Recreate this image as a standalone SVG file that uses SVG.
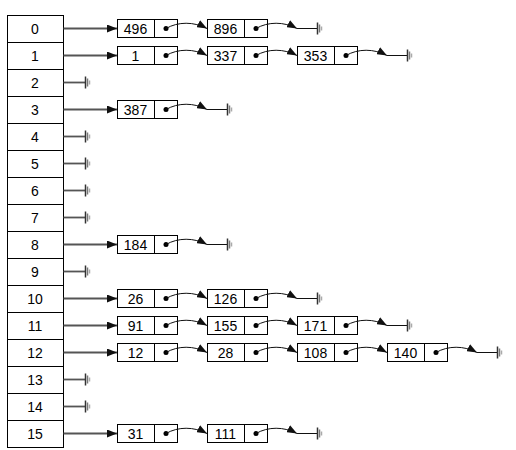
<svg xmlns="http://www.w3.org/2000/svg" width="516" height="450" viewBox="0 0 516 450">
<defs>
<marker id="ah" markerUnits="userSpaceOnUse" viewBox="0 0 10 8" refX="10" refY="4" markerWidth="10" markerHeight="8" orient="auto"><path d="M0,0 L10,4 L0,8 z" fill="#111"/></marker>
<style>
.tb rect{fill:#fff;stroke:#000;stroke-width:1}
.nd rect{fill:#fff;stroke:#000;stroke-width:1}
.nd line{stroke:#000;stroke-width:1}
text{font-family:"Liberation Sans",Arial,sans-serif;font-size:14px;fill:#000;text-anchor:middle}
.dot{fill:#000}
.ar{fill:none;stroke:#555;stroke-width:1.8;marker-end:url(#ah)}
.cv{fill:none;stroke:#111;stroke-width:1;marker-end:url(#ah)}
.nl{fill:none;stroke:#555;stroke-width:1.8}
.tl{fill:none;stroke:#111;stroke-width:1}
.g1{stroke:#333;stroke-width:1.5}
.g2{stroke:#777;stroke-width:1.5}
.g3{stroke:#aaa;stroke-width:1.5}
</style>
</defs>
<rect width="516" height="450" fill="#fff"/>
<g id="table">
<g id="row0" class="tb"><rect x="7.5" y="15.5" width="56" height="27"/><text x="35" y="33.5">0</text></g>
<g id="row1" class="tb"><rect x="7.5" y="42.5" width="56" height="27"/><text x="35" y="60.5">1</text></g>
<g id="row2" class="tb"><rect x="7.5" y="69.5" width="56" height="27"/><text x="35" y="87.5">2</text></g>
<g id="row3" class="tb"><rect x="7.5" y="96.5" width="56" height="27"/><text x="35" y="114.5">3</text></g>
<g id="row4" class="tb"><rect x="7.5" y="123.5" width="56" height="27"/><text x="35" y="141.5">4</text></g>
<g id="row5" class="tb"><rect x="7.5" y="150.5" width="56" height="27"/><text x="35" y="168.5">5</text></g>
<g id="row6" class="tb"><rect x="7.5" y="177.5" width="56" height="27"/><text x="35" y="195.5">6</text></g>
<g id="row7" class="tb"><rect x="7.5" y="204.5" width="56" height="27"/><text x="35" y="222.5">7</text></g>
<g id="row8" class="tb"><rect x="7.5" y="231.5" width="56" height="27"/><text x="35" y="249.5">8</text></g>
<g id="row9" class="tb"><rect x="7.5" y="258.5" width="56" height="27"/><text x="35" y="276.5">9</text></g>
<g id="row10" class="tb"><rect x="7.5" y="285.5" width="56" height="27"/><text x="35" y="303.5">10</text></g>
<g id="row11" class="tb"><rect x="7.5" y="312.5" width="56" height="27"/><text x="35" y="330.5">11</text></g>
<g id="row12" class="tb"><rect x="7.5" y="339.5" width="56" height="27"/><text x="35" y="357.5">12</text></g>
<g id="row13" class="tb"><rect x="7.5" y="366.5" width="56" height="27"/><text x="35" y="384.5">13</text></g>
<g id="row14" class="tb"><rect x="7.5" y="393.5" width="56" height="27"/><text x="35" y="411.5">14</text></g>
<g id="row15" class="tb"><rect x="7.5" y="420.5" width="56" height="27"/><text x="35" y="438.5">15</text></g>
</g>
<g id="nodes">
<g id="n0a" class="nd"><rect x="117.5" y="19.5" width="60" height="18"/><line x1="154.5" y1="19.5" x2="154.5" y2="37.5"/><text x="135.5" y="33.5">496</text><circle class="dot" cx="166" cy="28.5" r="2.5"/></g>
<g id="n0b" class="nd"><rect x="207.5" y="19.5" width="60" height="18"/><line x1="244.5" y1="19.5" x2="244.5" y2="37.5"/><text x="225.5" y="33.5">896</text><circle class="dot" cx="256" cy="28.5" r="2.5"/></g>
<g id="n1a" class="nd"><rect x="117.5" y="46.5" width="60" height="18"/><line x1="154.5" y1="46.5" x2="154.5" y2="64.5"/><text x="135.5" y="60.5">1</text><circle class="dot" cx="166" cy="55.5" r="2.5"/></g>
<g id="n1b" class="nd"><rect x="207.5" y="46.5" width="60" height="18"/><line x1="244.5" y1="46.5" x2="244.5" y2="64.5"/><text x="225.5" y="60.5">337</text><circle class="dot" cx="256" cy="55.5" r="2.5"/></g>
<g id="n1c" class="nd"><rect x="297.5" y="46.5" width="60" height="18"/><line x1="334.5" y1="46.5" x2="334.5" y2="64.5"/><text x="315.5" y="60.5">353</text><circle class="dot" cx="346" cy="55.5" r="2.5"/></g>
<g id="n3a" class="nd"><rect x="117.5" y="100.5" width="60" height="18"/><line x1="154.5" y1="100.5" x2="154.5" y2="118.5"/><text x="135.5" y="114.5">387</text><circle class="dot" cx="166" cy="109.5" r="2.5"/></g>
<g id="n8a" class="nd"><rect x="117.5" y="235.5" width="60" height="18"/><line x1="154.5" y1="235.5" x2="154.5" y2="253.5"/><text x="135.5" y="249.5">184</text><circle class="dot" cx="166" cy="244.5" r="2.5"/></g>
<g id="n10a" class="nd"><rect x="117.5" y="289.5" width="60" height="18"/><line x1="154.5" y1="289.5" x2="154.5" y2="307.5"/><text x="135.5" y="303.5">26</text><circle class="dot" cx="166" cy="298.5" r="2.5"/></g>
<g id="n10b" class="nd"><rect x="207.5" y="289.5" width="60" height="18"/><line x1="244.5" y1="289.5" x2="244.5" y2="307.5"/><text x="225.5" y="303.5">126</text><circle class="dot" cx="256" cy="298.5" r="2.5"/></g>
<g id="n11a" class="nd"><rect x="117.5" y="316.5" width="60" height="18"/><line x1="154.5" y1="316.5" x2="154.5" y2="334.5"/><text x="135.5" y="330.5">91</text><circle class="dot" cx="166" cy="325.5" r="2.5"/></g>
<g id="n11b" class="nd"><rect x="207.5" y="316.5" width="60" height="18"/><line x1="244.5" y1="316.5" x2="244.5" y2="334.5"/><text x="225.5" y="330.5">155</text><circle class="dot" cx="256" cy="325.5" r="2.5"/></g>
<g id="n11c" class="nd"><rect x="297.5" y="316.5" width="60" height="18"/><line x1="334.5" y1="316.5" x2="334.5" y2="334.5"/><text x="315.5" y="330.5">171</text><circle class="dot" cx="346" cy="325.5" r="2.5"/></g>
<g id="n12a" class="nd"><rect x="117.5" y="343.5" width="60" height="18"/><line x1="154.5" y1="343.5" x2="154.5" y2="361.5"/><text x="135.5" y="357.5">12</text><circle class="dot" cx="166" cy="352.5" r="2.5"/></g>
<g id="n12b" class="nd"><rect x="207.5" y="343.5" width="60" height="18"/><line x1="244.5" y1="343.5" x2="244.5" y2="361.5"/><text x="225.5" y="357.5">28</text><circle class="dot" cx="256" cy="352.5" r="2.5"/></g>
<g id="n12c" class="nd"><rect x="297.5" y="343.5" width="60" height="18"/><line x1="334.5" y1="343.5" x2="334.5" y2="361.5"/><text x="315.5" y="357.5">108</text><circle class="dot" cx="346" cy="352.5" r="2.5"/></g>
<g id="n12d" class="nd"><rect x="387.5" y="343.5" width="60" height="18"/><line x1="424.5" y1="343.5" x2="424.5" y2="361.5"/><text x="405.5" y="357.5">140</text><circle class="dot" cx="436" cy="352.5" r="2.5"/></g>
<g id="n15a" class="nd"><rect x="117.5" y="424.5" width="60" height="18"/><line x1="154.5" y1="424.5" x2="154.5" y2="442.5"/><text x="135.5" y="438.5">31</text><circle class="dot" cx="166" cy="433.5" r="2.5"/></g>
<g id="n15b" class="nd"><rect x="207.5" y="424.5" width="60" height="18"/><line x1="244.5" y1="424.5" x2="244.5" y2="442.5"/><text x="225.5" y="438.5">111</text><circle class="dot" cx="256" cy="433.5" r="2.5"/></g>
</g>
<g id="connectors">
<path class="ar" d="M63.5,28.5H117"/>
<path class="ar" d="M63.5,55.5H117"/>
<path class="ar" d="M63.5,109.5H117"/>
<path class="ar" d="M63.5,244.5H117"/>
<path class="ar" d="M63.5,298.5H117"/>
<path class="ar" d="M63.5,325.5H117"/>
<path class="ar" d="M63.5,352.5H117"/>
<path class="ar" d="M63.5,433.5H117"/>
<path class="cv" d="M166,28.5c12,-7 28,-7 41,0"/>
<path class="cv" d="M256,28.5c12,-7 28,-7 41,0"/>
<path class="cv" d="M166,55.5c12,-7 28,-7 41,0"/>
<path class="cv" d="M256,55.5c12,-7 28,-7 41,0"/>
<path class="cv" d="M346,55.5c12,-7 28,-7 41,0"/>
<path class="cv" d="M166,109.5c12,-7 28,-7 41,0"/>
<path class="cv" d="M166,244.5c12,-7 28,-7 41,0"/>
<path class="cv" d="M166,298.5c12,-7 28,-7 41,0"/>
<path class="cv" d="M256,298.5c12,-7 28,-7 41,0"/>
<path class="cv" d="M166,325.5c12,-7 28,-7 41,0"/>
<path class="cv" d="M256,325.5c12,-7 28,-7 41,0"/>
<path class="cv" d="M346,325.5c12,-7 28,-7 41,0"/>
<path class="cv" d="M166,352.5c12,-7 28,-7 41,0"/>
<path class="cv" d="M256,352.5c12,-7 28,-7 41,0"/>
<path class="cv" d="M346,352.5c12,-7 28,-7 41,0"/>
<path class="cv" d="M436,352.5c12,-7 28,-7 41,0"/>
<path class="cv" d="M166,433.5c12,-7 28,-7 41,0"/>
<path class="cv" d="M256,433.5c12,-7 28,-7 41,0"/>
<path class="tl" d="M297,28.5H317"/>
<path class="tl" d="M387,55.5H407"/>
<path class="tl" d="M207,109.5H227"/>
<path class="tl" d="M207,244.5H227"/>
<path class="tl" d="M297,298.5H317"/>
<path class="tl" d="M387,325.5H407"/>
<path class="tl" d="M477,352.5H497"/>
<path class="tl" d="M297,433.5H317"/>
<path class="nl" d="M63.5,82.5H85"/>
<path class="nl" d="M63.5,136.5H85"/>
<path class="nl" d="M63.5,163.5H85"/>
<path class="nl" d="M63.5,190.5H85"/>
<path class="nl" d="M63.5,217.5H85"/>
<path class="nl" d="M63.5,271.5H85"/>
<path class="nl" d="M63.5,379.5H85"/>
<path class="nl" d="M63.5,406.5H85"/>
</g>
<g id="grounds">
<g transform="translate(85,82.5)"><path class="g1" d="M0.5,-6v12"/><path class="g2" d="M2.5,-4v8"/><path class="g3" d="M4.5,-2v4"/></g>
<g transform="translate(85,136.5)"><path class="g1" d="M0.5,-6v12"/><path class="g2" d="M2.5,-4v8"/><path class="g3" d="M4.5,-2v4"/></g>
<g transform="translate(85,163.5)"><path class="g1" d="M0.5,-6v12"/><path class="g2" d="M2.5,-4v8"/><path class="g3" d="M4.5,-2v4"/></g>
<g transform="translate(85,190.5)"><path class="g1" d="M0.5,-6v12"/><path class="g2" d="M2.5,-4v8"/><path class="g3" d="M4.5,-2v4"/></g>
<g transform="translate(85,217.5)"><path class="g1" d="M0.5,-6v12"/><path class="g2" d="M2.5,-4v8"/><path class="g3" d="M4.5,-2v4"/></g>
<g transform="translate(85,271.5)"><path class="g1" d="M0.5,-6v12"/><path class="g2" d="M2.5,-4v8"/><path class="g3" d="M4.5,-2v4"/></g>
<g transform="translate(85,379.5)"><path class="g1" d="M0.5,-6v12"/><path class="g2" d="M2.5,-4v8"/><path class="g3" d="M4.5,-2v4"/></g>
<g transform="translate(85,406.5)"><path class="g1" d="M0.5,-6v12"/><path class="g2" d="M2.5,-4v8"/><path class="g3" d="M4.5,-2v4"/></g>
<g transform="translate(317,28.5)"><path class="g1" d="M0.5,-6v12"/><path class="g2" d="M2.5,-4v8"/><path class="g3" d="M4.5,-2v4"/></g>
<g transform="translate(407,55.5)"><path class="g1" d="M0.5,-6v12"/><path class="g2" d="M2.5,-4v8"/><path class="g3" d="M4.5,-2v4"/></g>
<g transform="translate(227,109.5)"><path class="g1" d="M0.5,-6v12"/><path class="g2" d="M2.5,-4v8"/><path class="g3" d="M4.5,-2v4"/></g>
<g transform="translate(227,244.5)"><path class="g1" d="M0.5,-6v12"/><path class="g2" d="M2.5,-4v8"/><path class="g3" d="M4.5,-2v4"/></g>
<g transform="translate(317,298.5)"><path class="g1" d="M0.5,-6v12"/><path class="g2" d="M2.5,-4v8"/><path class="g3" d="M4.5,-2v4"/></g>
<g transform="translate(407,325.5)"><path class="g1" d="M0.5,-6v12"/><path class="g2" d="M2.5,-4v8"/><path class="g3" d="M4.5,-2v4"/></g>
<g transform="translate(497,352.5)"><path class="g1" d="M0.5,-6v12"/><path class="g2" d="M2.5,-4v8"/><path class="g3" d="M4.5,-2v4"/></g>
<g transform="translate(317,433.5)"><path class="g1" d="M0.5,-6v12"/><path class="g2" d="M2.5,-4v8"/><path class="g3" d="M4.5,-2v4"/></g>
</g>
</svg>
